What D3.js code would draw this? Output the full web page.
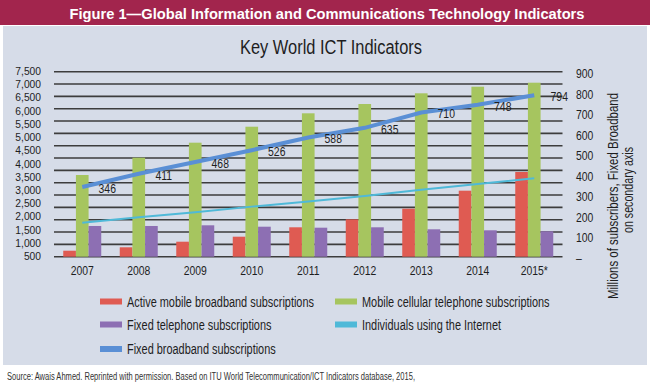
<!DOCTYPE html>
<html>
<head>
<meta charset="utf-8">
<script src="https://cdn.jsdelivr.net/npm/d3@7"></script>
<style>
  body { margin: 0; background: #fff; }
  svg { display: block; }
  svg text { font-family: "Liberation Sans", Arial, Helvetica, sans-serif; }
</style>
</head>
<body>
<svg id="chart" width="650" height="382"></svg>
<script>
// values (millions)
var years = ["2007", "2008", "2009", "2010", "2011", "2012", "2013", "2014", "2015*"];
var mobileBroadband = [243, 381, 608, 811, 1192, 1515, 1946, 2676, 3434];
var mobileCellular = [3312, 4013, 4622, 5270, 5813, 6190, 6624, 6892, 7054];
var fixedTelephone = [1245, 1245, 1273, 1216, 1176, 1192, 1111, 1070, 1030];
var internetUsers = [1380, 1600, 1800, 2030, 2240, 2460, 2710, 2950, 3180];
var fixedBroadband = [346, 411, 468, 526, 588, 635, 710, 748, 794];

var leftTicks = [500, 1000, 1500, 2000, 2500, 3000, 3500, 4000, 4500, 5000, 5500, 6000, 6500, 7000, 7500];
var rightTicks = [0, 100, 200, 300, 400, 500, 600, 700, 800, 900];

var seriesNames = ["Active mobile broadband subscriptions", "Mobile cellular telephone subscriptions",
  "Fixed telephone subscriptions", "Individuals using the Internet", "Fixed broadband subscriptions"];
var colors = ["#df5b52", "#a6c55f", "#8d6fb3", "#4fb9d8", "#5a8fd5"];

var svg = d3.select("#chart");

// squeeze text horizontally, the original uses a condensed face
function squeeze(sel, f) {
  sel.each(function() {
    var w = this.getComputedTextLength();
    d3.select(this).attr("textLength", w * f).attr("lengthAdjust", "spacingAndGlyphs");
  });
}

// frame
svg.append("rect").attr("x", 0).attr("y", 0).attr("width", 650).attr("height", 25).attr("fill", "#a2254d");
svg.append("text")
  .attr("x", 327).attr("y", 18.5).attr("text-anchor", "middle")
  .attr("fill", "#fff").attr("font-weight", "bold").attr("font-size", 15)
  .attr("textLength", 515).attr("lengthAdjust", "spacingAndGlyphs")
  .text("Figure 1\u2014Global Information and Communications Technology Indicators");
svg.append("rect").attr("x", 3).attr("y", 26).attr("width", 644).attr("height", 339).attr("fill", "#d6dce8");

svg.append("text")
  .attr("x", 331).attr("y", 54).attr("text-anchor", "middle")
  .attr("fill", "#1e1e1e").attr("font-size", 20)
  .attr("textLength", 182).attr("lengthAdjust", "spacingAndGlyphs")
  .text("Key World ICT Indicators");

var plotLeft = 54, plotRight = 562.5, yBottom = 256.7, yTop = 71.7;

var x = d3.scaleBand().domain(years).range([plotLeft, plotRight]);
var groupW = 38;
var keys = ["mb", "mc", "ft"];
var x1 = d3.scaleBand().domain(keys).range([-groupW / 2, groupW / 2]);

// bars and internet line on the primary scale
var y = d3.scaleLinear().domain([0, 7500]).range([yBottom, yTop]);
// the printed left labels sit on their own 500..7500 spacing
var yLabel = d3.scaleLinear().domain([500, 7500]).range([256, 70.7]);
var y2 = d3.scaleLinear().domain([0, 900]).range([258, 73.5]);

var cx = function(i) { return x(years[i]) + x.bandwidth() / 2; };

// gridlines
svg.append("g").selectAll("line")
  .data(d3.range(0, 7501, 500))
  .join("line")
  .attr("x1", plotLeft).attr("x2", plotRight)
  .attr("y1", function(d) { return y(d); }).attr("y2", function(d) { return y(d); })
  .attr("stroke", "#3d3d3d").attr("stroke-width", 1.6);

// bars
var barData = [];
years.forEach(function(yr, i) {
  barData.push({ yr: yr, key: "mb", v: mobileBroadband[i], c: colors[0] });
  barData.push({ yr: yr, key: "mc", v: mobileCellular[i], c: colors[1] });
  barData.push({ yr: yr, key: "ft", v: fixedTelephone[i], c: colors[2] });
});
svg.append("g").selectAll("rect")
  .data(barData)
  .join("rect")
  .attr("x", function(d) { return x(d.yr) + x.bandwidth() / 2 + x1(d.key); })
  .attr("width", x1.bandwidth())
  .attr("y", function(d) { return y(d.v); })
  .attr("height", function(d) { return yBottom - y(d.v); })
  .attr("fill", function(d) { return d.c; });

// internet users line
var line1 = d3.line().x(function(d, i) { return cx(i); }).y(function(d) { return y(d); });
svg.append("path").datum(internetUsers)
  .attr("d", line1).attr("fill", "none")
  .attr("stroke", colors[3]).attr("stroke-width", 2);

// fixed broadband line (secondary axis)
var line2 = d3.line().x(function(d, i) { return cx(i); }).y(function(d) { return y2(d); });
svg.append("path").datum(fixedBroadband)
  .attr("d", line2).attr("fill", "none")
  .attr("stroke", colors[4]).attr("stroke-width", 4);

var dl = svg.append("g").selectAll("text")
  .data(fixedBroadband)
  .join("text")
  .attr("x", function(d, i) { return cx(i) + 25; })
  .attr("y", function(d) { return y2(d) + 6; })
  .attr("text-anchor", "middle").attr("font-size", 13).attr("fill", "#1e1e1e")
  .text(function(d) { return d; });
squeeze(dl, 0.8);

// left axis
var leftAxis = d3.axisLeft(yLabel).tickValues(leftTicks).tickSize(0).tickPadding(0).tickFormat(d3.format(","));
var gl = svg.append("g").attr("transform", "translate(41,0)").call(leftAxis);
gl.select(".domain").remove();
gl.selectAll("text").attr("font-size", 11.4).attr("fill", "#1e1e1e").attr("font-family", null);
squeeze(gl.selectAll("text"), 0.9);

// right axis
var rightAxis = d3.axisRight(y2).tickValues(rightTicks).tickSize(0).tickPadding(0)
  .tickFormat(function(d) { return d === 0 ? "\u2013" : d; });
var gr = svg.append("g").attr("transform", "translate(576,0)").call(rightAxis);
gr.select(".domain").remove();
gr.selectAll("text").attr("font-size", 13).attr("fill", "#1e1e1e").attr("font-family", null);
squeeze(gr.selectAll("text"), 0.8);

// x axis labels
var xAxis = d3.axisBottom(x).tickSize(0).tickPadding(0);
var gx = svg.append("g").attr("transform", "translate(0,266)").call(xAxis);
gx.select(".domain").remove();
gx.selectAll("text").attr("font-size", 13).attr("fill", "#1e1e1e").attr("font-family", null);
squeeze(gx.selectAll("text"), 0.8);

// right axis title
var rt = svg.append("g").attr("fill", "#1e1e1e").attr("font-size", 14);
rt.append("text").attr("transform", "translate(618,196) rotate(-90)").attr("text-anchor", "middle")
  .attr("textLength", 206).attr("lengthAdjust", "spacingAndGlyphs")
  .text("Millions of subscribers, Fixed Broadband");
rt.append("text").attr("transform", "translate(633,190) rotate(-90)").attr("text-anchor", "middle")
  .attr("textLength", 86).attr("lengthAdjust", "spacingAndGlyphs")
  .text("on secondary axis");

// legend
var legendPos = [[100, 301.5], [335, 301.5], [100, 324.5], [335, 324.5], [100, 349]];
var lg = svg.append("g").selectAll("g")
  .data(seriesNames)
  .join("g")
  .attr("transform", function(d, i) { return "translate(" + legendPos[i][0] + "," + legendPos[i][1] + ")"; });
lg.append("rect").attr("x", 0).attr("y", -3).attr("width", 22).attr("height", 6)
  .attr("fill", function(d, i) { return colors[i]; });
var lt = lg.append("text").attr("x", 27).attr("y", 5)
  .attr("font-size", 14).attr("fill", "#1e1e1e")
  .text(function(d) { return d; });
squeeze(lt, 0.78);

// source
svg.append("text")
  .attr("x", 7).attr("y", 380)
  .attr("font-size", 10).attr("fill", "#333")
  .attr("textLength", 408).attr("lengthAdjust", "spacingAndGlyphs")
  .text("Source:  Awais Ahmed. Reprinted with permission. Based on ITU World Telecommunication/ICT Indicators database, 2015,");
</script>
</body>
</html>
